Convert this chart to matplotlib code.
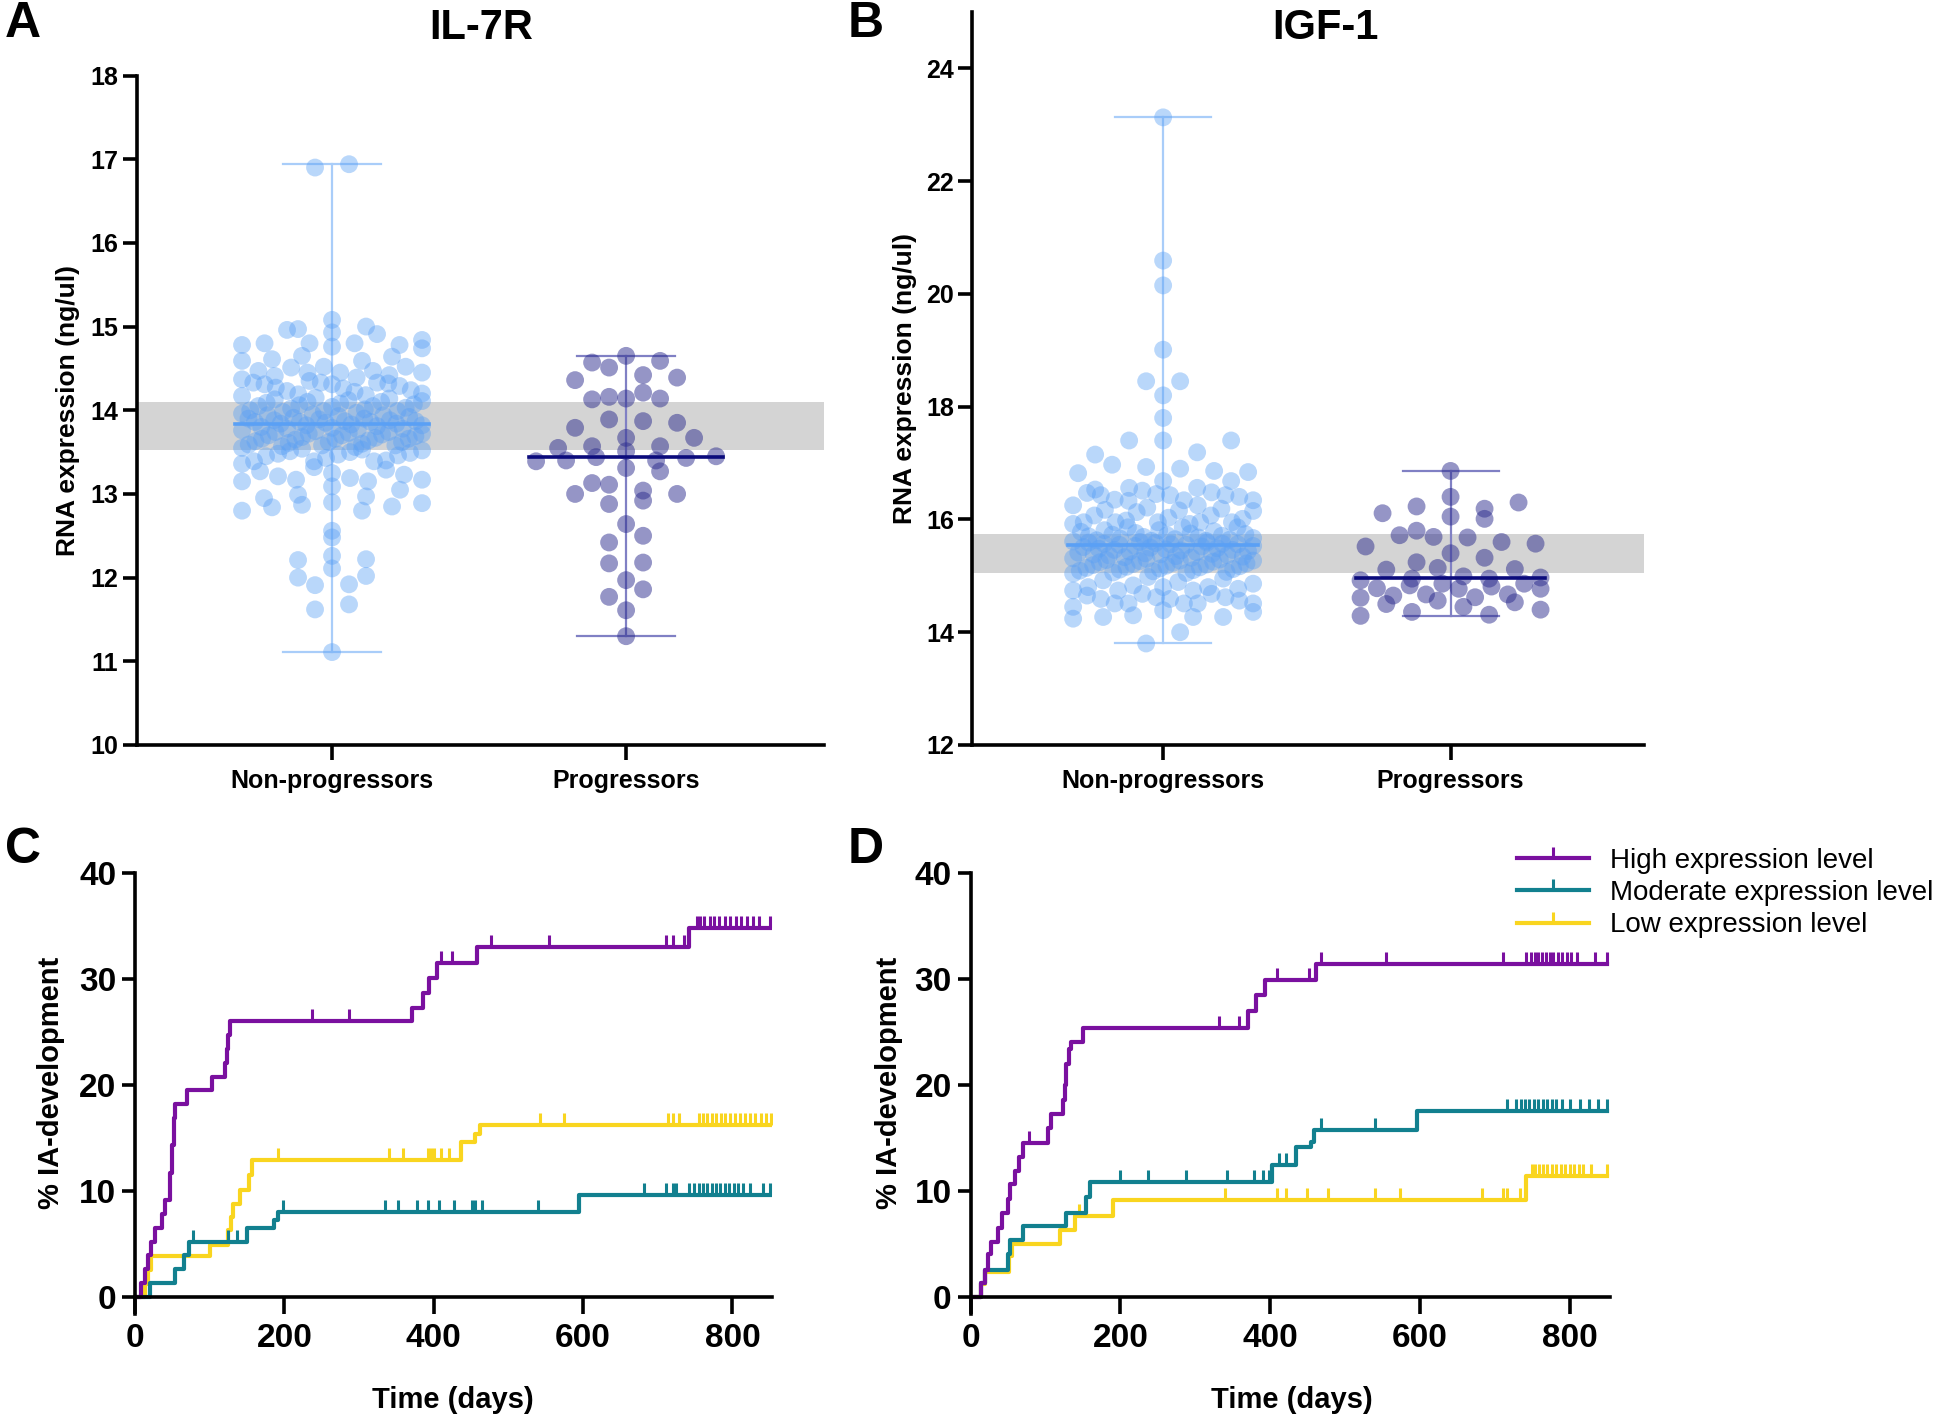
import numpy as np
import matplotlib
matplotlib.use('Agg')
import matplotlib.pyplot as plt
from matplotlib.path import Path
from matplotlib.lines import Line2D

plt.rcParams['font.family'] = ['Liberation Sans', 'DejaVu Sans']
plt.rcParams['font.weight'] = 'bold'

# ---------------- data ----------------
groups = ['Non-progressors', 'Progressors']

il7r_nonprog = [
    16.94, 16.90,
    15.08, 15.00, 14.97, 14.96, 14.93, 14.91, 14.84, 14.80, 14.80, 14.80,
    14.78, 14.78, 14.76, 14.74, 14.65, 14.64, 14.61, 14.59, 14.59, 14.52,
    14.52, 14.51, 14.47, 14.47, 14.45, 14.45, 14.45, 14.42, 14.41, 14.39,
    14.37, 14.35, 14.33, 14.33, 14.33, 14.32, 14.31, 14.31,
    14.29, 14.27, 14.26, 14.24, 14.23, 14.22, 14.20, 14.19, 14.18, 14.17,
    14.15, 14.14, 14.13, 14.12, 14.11, 14.10, 14.10, 14.09, 14.08, 14.07,
    14.06, 14.05, 14.05, 14.04, 14.03, 14.02, 14.01, 14.00, 13.99, 13.99,
    13.98, 13.97, 13.96, 13.95, 13.94, 13.94, 13.93, 13.92, 13.91, 13.90,
    13.90, 13.89, 13.88, 13.88, 13.87, 13.87, 13.86, 13.86, 13.86, 13.85,
    13.84, 13.84, 13.83, 13.82, 13.82, 13.81, 13.80, 13.79, 13.78, 13.78,
    13.77, 13.76, 13.75, 13.74, 13.73, 13.72, 13.72, 13.71, 13.70, 13.69,
    13.68, 13.67, 13.66, 13.66, 13.65, 13.64, 13.63, 13.62, 13.61, 13.60,
    13.59, 13.58, 13.57, 13.56, 13.55, 13.54, 13.53, 13.52, 13.51, 13.50,
    13.49, 13.48, 13.47, 13.46, 13.45, 13.62, 13.70, 13.58, 13.74, 13.66,
    13.43, 13.40, 13.39, 13.39, 13.39, 13.36, 13.32, 13.29, 13.27, 13.25,
    13.23, 13.21, 13.19, 13.17, 13.17, 13.15, 13.15, 13.09, 13.05, 12.99,
    12.97, 12.95, 12.90, 12.89, 12.87, 12.85, 12.84, 12.80, 12.80,
    12.56, 12.48, 12.26, 12.22, 12.21, 12.11, 12.02, 12.00, 11.92, 11.91,
    11.68, 11.62, 11.11,
]
il7r_prog = [
    14.65, 14.59, 14.57, 14.51, 14.42, 14.39, 14.36, 14.21, 14.16, 14.14,
    14.14, 14.13, 13.89, 13.87, 13.85, 13.79, 13.67, 13.67, 13.57, 13.57,
    13.55, 13.51, 13.45, 13.44, 13.43, 13.40, 13.40, 13.39, 13.31, 13.27,
    13.13, 13.11, 13.04, 13.00, 13.00, 12.92, 12.88, 12.64, 12.50, 12.42,
    12.18, 12.17, 11.97, 11.86, 11.77, 11.61, 11.30,
]
il7r_band = [13.53, 14.10]
il7r_yticks = [10, 11, 12, 13, 14, 15, 16, 17, 18]

igf1_nonprog = [
    23.13, 20.59, 20.15, 19.01, 18.45, 18.45, 18.20, 17.80, 17.40, 17.40,
    17.40,
    17.19, 17.15, 16.97, 16.93, 16.90, 16.86, 16.84, 16.82, 16.68, 16.68,
    16.56, 16.56, 16.53, 16.51, 16.48, 16.47, 16.45, 16.43, 16.43, 16.43,
    16.40, 16.35, 16.34, 16.34, 16.33, 16.25, 16.25, 16.21, 16.19, 16.17,
    16.16, 16.15, 16.13, 16.07, 16.07, 16.03, 16.01, 15.98, 15.95, 15.95,
    15.95, 15.95, 15.95, 15.92, 15.92, 15.86, 15.86, 15.86, 15.81, 15.81,
    15.79, 15.78, 15.76, 15.75, 15.74, 15.73, 15.72, 15.71, 15.70, 15.69,
    15.68, 15.67, 15.66, 15.65, 15.64, 15.63, 15.62, 15.62, 15.61, 15.60,
    15.59, 15.59, 15.58, 15.57, 15.57, 15.56, 15.56, 15.55, 15.55,
    15.53, 15.53, 15.52, 15.51, 15.50, 15.49, 15.48, 15.47, 15.46, 15.45,
    15.44, 15.43, 15.42, 15.41, 15.40, 15.39, 15.38, 15.37, 15.36, 15.35,
    15.34, 15.33, 15.32, 15.31, 15.30, 15.29, 15.28, 15.27, 15.26, 15.25,
    15.24, 15.23, 15.22, 15.21, 15.20, 15.19, 15.17, 15.16, 15.15, 15.14,
    15.13, 15.12, 15.11, 15.10, 15.09, 15.08, 15.07, 15.06, 15.05, 15.46,
    15.38, 15.27,
    15.18, 15.04, 14.98, 14.95, 14.92, 14.89, 14.86, 14.83, 14.80, 14.80,
    14.80, 14.77, 14.74, 14.74, 14.74, 14.68, 14.68, 14.65, 14.62, 14.62,
    14.59, 14.59, 14.56, 14.51, 14.51, 14.51, 14.51, 14.51, 14.45, 14.39,
    14.36, 14.30, 14.27, 14.27, 14.27, 14.24, 14.00, 13.80,
]
igf1_prog = [
    16.86, 16.40, 16.30, 16.23, 16.19, 16.11, 16.05, 16.01, 15.80, 15.72,
    15.69, 15.68, 15.60, 15.57, 15.52, 15.40, 15.32, 15.24, 15.14, 15.12,
    15.11, 14.99, 14.97, 14.95, 14.95, 14.92, 14.86, 14.86, 14.83, 14.81,
    14.78, 14.77, 14.77, 14.67, 14.67, 14.65, 14.62, 14.61, 14.56, 14.53,
    14.50, 14.45, 14.40, 14.36, 14.31, 14.29,
]
igf1_band = [15.05, 15.75]
igf1_yticks = [12, 14, 16, 18, 20, 22, 24]

levels = ['High expression level', 'Moderate expression level', 'Low expression level']

# panel C (IL-7R) cumulative IA development, % at each step time
c_high_t = [0, 8, 13, 17, 22, 27, 36, 40, 47, 50, 52, 54, 70, 103, 121, 123, 125, 127, 371, 385, 394, 405, 458, 742]
c_high_y = [0, 1.3, 2.6, 3.9, 5.2, 6.5, 7.8, 9.1, 11.7, 14.3, 16.9, 18.2, 19.5, 20.8, 22.1, 23.4, 24.7, 26.0, 27.3, 28.7, 30.1, 31.5, 33.0, 34.8]
c_high_cens = [237, 287, 410, 424, 477, 554, 711, 720, 735, 752, 757, 762, 770, 776, 782, 790, 797, 805, 812, 820, 828, 835, 850]
c_mod_t = [0, 20, 54, 65, 72, 150, 186, 191, 595]
c_mod_y = [0, 1.3, 2.6, 3.9, 5.2, 6.5, 7.2, 8.0, 9.6]
c_mod_cens = [77, 125, 137, 198, 335, 352, 378, 392, 407, 427, 451, 455, 465, 540, 682, 711, 721, 725, 742, 748, 755,
              760, 766, 772, 778, 784, 790, 796, 802, 808, 814, 824, 841, 850]
c_low_t = [0, 13, 17, 21, 100, 125, 128, 131, 141, 153, 157, 437, 455, 462]
c_low_y = [0, 1.2, 2.5, 3.8, 4.9, 6.3, 7.5, 8.8, 10.1, 11.5, 12.9, 14.6, 15.4, 16.2]
c_low_cens = [191, 340, 359, 392, 397, 400, 410, 420, 542, 574, 714, 721, 728, 755, 760, 766, 772, 778, 785, 790, 797,
              803, 810, 817, 824, 830, 838, 845, 851]

# panel D (IGF-1)
d_high_t = [0, 14, 19, 23, 28, 37, 42, 50, 53, 59, 65, 70, 103, 108, 124, 126, 128, 131, 134, 150, 370, 381, 393, 461]
d_high_y = [0, 1.3, 2.5, 4.0, 5.2, 6.5, 7.9, 9.2, 10.6, 11.9, 13.2, 14.5, 15.9, 17.3, 18.6, 20.0, 22.0, 23.4, 24.1, 25.4, 27.0, 28.5, 29.9, 31.4]
d_high_cens = [78, 332, 358, 409, 452, 468, 555, 711, 742, 748, 753, 758, 763, 768, 773, 778, 784, 790, 796, 802, 809, 833, 850]
d_mod_t = [0, 14, 19, 50, 53, 70, 128, 154, 159, 402, 435, 454, 458, 596]
d_mod_y = [0, 1.3, 2.5, 4.0, 5.4, 6.7, 7.9, 9.4, 10.8, 12.4, 14.1, 14.6, 15.7, 17.5]
d_mod_cens = [199, 237, 287, 342, 379, 390, 398, 412, 421, 468, 540, 716, 728, 735, 740, 746, 752, 758, 764, 770, 776,
              782, 790, 800, 814, 826, 837, 850]
d_low_t = [0, 14, 19, 51, 56, 119, 140, 190, 742]
d_low_y = [0, 1.2, 2.3, 3.8, 5.0, 6.3, 7.6, 9.1, 11.4]
d_low_cens = [145, 340, 409, 421, 449, 477, 540, 573, 683, 711, 716, 733, 749, 754, 759, 764, 770, 776, 782, 788, 794,
              800, 806, 812, 818, 828, 850]

# ---------------- style ----------------
np_color = '#5aa0f5'
np_line = '#a9cdf9'
pr_color = '#2c2c8e'
pr_line = '#8080c4'
pr_median = '#0b0b7c'
band_color = '#d4d4d4'
km_colors = ['#7a109f', '#12808f', '#f9d51f']
SPINE = 2.6

W, H = 1946, 1418
fig = plt.figure(figsize=(W / 100, H / 100), dpi=100)


def rect(x0, y0, x1, y1):
    return [x0 / W, 1 - y1 / H, (x1 - x0) / W, (y1 - y0) / H]


def row_scatter(ax, vals, d_px, max_px):
    # Prism-like layout: group points into rows one dot high, spread each row
    # symmetrically, squeezing the spacing when a row would exceed the width cap
    vals = np.asarray(vals, float)
    tr = ax.transData
    ypx = tr.transform(np.column_stack([np.zeros_like(vals), vals]))[:, 1]
    px_per_x = tr.transform((1, 0))[0] - tr.transform((0, 0))[0]
    rows = np.floor((ypx - ypx.min()) / d_px).astype(int)
    out = np.zeros(len(vals))
    for r in np.unique(rows):
        idx = np.where(rows == r)[0]
        idx = idx[np.argsort(vals[idx], kind='stable')]
        n = len(idx)
        if n == 1:
            continue
        sp = min(2 * d_px, 2 * max_px / (n - 1))
        slots = (np.arange(n) - (n - 1) / 2) * sp
        p = max(1, int(round(n * 0.618)))
        while np.gcd(p, n) != 1:
            p += 1
        order = (np.arange(n) * p) % n
        out[idx] = slots[order] / px_per_x
    return out


def dot_panel(ax, nonprog, prog, band, yticks, ylim):
    ax.set_xlim(-0.665, 1.673)
    ax.set_ylim(*ylim)
    ax.axhspan(band[0], band[1], color=band_color, lw=0, zorder=0)
    for pos, vals, c, lc, mc, a in [(0, nonprog, np_color, np_line, np_color, 0.42),
                                    (1, prog, pr_color, pr_line, pr_median, 0.5)]:
        vals = np.asarray(vals)
        xs = pos + row_scatter(ax, vals, 17, 90)
        ax.plot([pos, pos], [vals.min(), vals.max()], color=lc, lw=1.6, zorder=1)
        for v in (vals.min(), vals.max()):
            ax.plot([pos - 0.167, pos + 0.167], [v, v], color=lc, lw=1.6, zorder=1)
        ax.scatter(xs, vals, s=165, color=c, alpha=a, edgecolors='none', zorder=2)
        med = np.median(vals)
        ax.plot([pos - 0.33, pos + 0.33], [med, med], color=mc, lw=2.6, zorder=3)
    ax.set_xticks([0, 1])
    ax.set_xticklabels(groups, fontsize=18, fontweight='bold')
    ax.set_yticks(yticks)
    ax.tick_params(axis='y', labelsize=18, length=10, width=SPINE, pad=3)
    ax.tick_params(axis='x', length=11, width=SPINE, pad=6)
    for s in ['top', 'right']:
        ax.spines[s].set_visible(False)
    for s in ['left', 'bottom']:
        ax.spines[s].set_linewidth(SPINE)


tick_marker = Path([(0, 0), (0, 1)], [Path.MOVETO, Path.LINETO])


def km_panel(ax, curves):
    ax.set_xlim(0, 853)
    ax.set_ylim(-1.6, 40)
    for t, y, cens, c in curves:
        t_end = max(cens[-1], t[-1])
        ax.step(list(t) + [t_end], list(y) + [y[-1]], where='post', color=c, lw=3.0, zorder=2)
        idx = np.searchsorted(t, cens, side='right') - 1
        yc = np.asarray(y)[idx]
        ax.plot(cens, yc, ls='none', marker=tick_marker, ms=18, mew=2.2, color=c, zorder=2)
    ax.spines['bottom'].set_position(('data', 0))
    for s in ['top', 'right']:
        ax.spines[s].set_visible(False)
    for s in ['left', 'bottom']:
        ax.spines[s].set_linewidth(SPINE)
    ax.set_xticks([0, 200, 400, 600, 800])
    ax.set_yticks([0, 10, 20, 30, 40])
    ax.tick_params(axis='x', length=12.2, width=SPINE, labelsize=24, pad=7)
    ax.tick_params(axis='y', length=9.5, width=SPINE, labelsize=24, pad=4)


axA = fig.add_axes(rect(136.5, 75.5, 824, 745))
dot_panel(axA, il7r_nonprog, il7r_prog, il7r_band, il7r_yticks, (10, 18))
axB = fig.add_axes(rect(972, 11.9, 1644, 745))
dot_panel(axB, igf1_nonprog, igf1_prog, igf1_band, igf1_yticks, (12, 25))

axC = fig.add_axes(rect(135, 873.3, 772, 1313.6))
km_panel(axC, [(c_low_t, c_low_y, c_low_cens, km_colors[2]),
               (c_mod_t, c_mod_y, c_mod_cens, km_colors[1]),
               (c_high_t, c_high_y, c_high_cens, km_colors[0])])
axD = fig.add_axes(rect(970.5, 873.3, 1609.6, 1313.6))
km_panel(axD, [(d_low_t, d_low_y, d_low_cens, km_colors[2]),
               (d_mod_t, d_mod_y, d_mod_cens, km_colors[1]),
               (d_high_t, d_high_y, d_high_cens, km_colors[0])])


def ftext(x, y, s, **kw):
    fig.text(x / W, 1 - y / H, s, ha='center', va='center', fontweight='bold', **kw)


ftext(23, 24, 'A', fontsize=36)
ftext(866, 24, 'B', fontsize=36)
ftext(23, 850, 'C', fontsize=36)
ftext(866, 850, 'D', fontsize=36)
ftext(481, 28, 'IL-7R', fontsize=30)
ftext(1325, 28, 'IGF-1', fontsize=30)
ftext(68, 410, 'RNA expression (ng/ul)', fontsize=19, rotation=90)
ftext(905, 379, 'RNA expression (ng/ul)', fontsize=19, rotation=90)
ftext(51, 1083, '% IA-development', fontsize=21, rotation=90)
ftext(889, 1083, '% IA-development', fontsize=21, rotation=90)
ftext(453, 1400, 'Time (days)', fontsize=21)
ftext(1292, 1400, 'Time (days)', fontsize=21)

handles = [Line2D([], [], color=c, lw=3.0, marker=tick_marker, ms=16, mew=2.2) for c in km_colors]
fig.legend(handles, levels, loc='upper left', bbox_to_anchor=(1517 / W, 1 - 848 / H),
           frameon=False, borderaxespad=0, borderpad=0, handlelength=2.6, handletextpad=0.75,
           labelspacing=0.22, prop={'family': 'Liberation Sans', 'weight': 'normal', 'size': 20})

fig.savefig('out.png', dpi=100)
